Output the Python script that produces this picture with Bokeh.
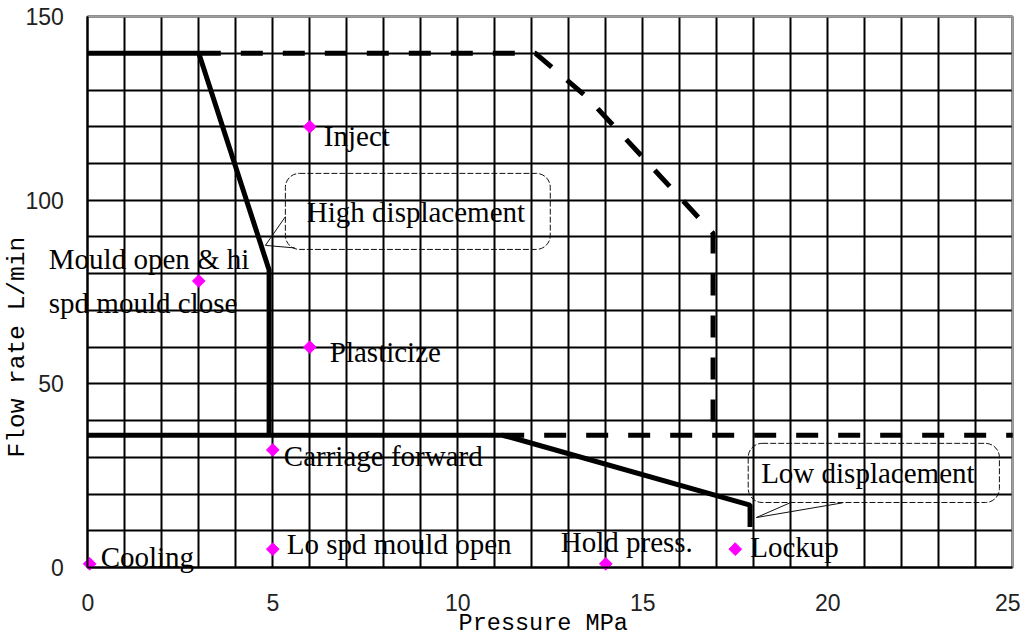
from math import pi
from bokeh.plotting import figure
from bokeh.models import (Label, BoxAnnotation, SingleIntervalTicker, FixedTicker, Range1d,
                          LinearAxis, Grid)
from bokeh.embed import file_html
from bokeh.resources import INLINE

# ---- data ----
hi_disp_p = [0, 3, 4.9, 4.9]
hi_disp_q = [140, 140, 81, 36]
lo_disp_p = [0, 11.2, 11.45, 17.9, 17.9]
lo_disp_q = [36, 36, 35.4, 17, 11]
hi_max_p = [3, 12.1, 13.5, 16.9, 16.9]
hi_max_q = [140, 140, 128, 91, 36]
lo_max_p = [11.2, 25]
lo_max_q = [36, 36]

stage_names = ["Inject", "Mould open & hi\nspd mould close", "Plasticize",
               "Carriage forward", "Lo spd mould open", "Cooling",
               "Hold press.", "Lockup"]
stage_p = [6, 3, 6, 5, 5, 0.05, 14, 17.5]
stage_q = [120, 78, 60, 32, 5, 1, 1, 5]

x_ticks = [0, 5, 10, 15, 20, 25]
y_ticks = [0, 50, 100, 150]
X_MIN, X_MAX = 0, 25
Y_MIN, Y_MAX = 0, 150

x_title = "Pressure  MPa"
y_title = "Flow rate  L/min"
callout_hi = "High displacement"
callout_lo = "Low displacement"

# ---- styles / positions ----
label_offsets = [(14, -9), (-150, 0), (20, -5), (11, -6), (14, 5), (11, 7), (-45, 22), (15, 2)]
serif = "Liberation Serif"
fs = "29px"

p = figure(width=1020, height=639, x_range=Range1d(-2.36, 25.21), y_range=Range1d(-19.60, 154.37),
           x_axis_location=None, y_axis_location=None,
           output_backend="svg", toolbar_location=None, min_border=0)
p.background_fill_color = "white"
p.border_fill_color = "white"
p.outline_line_color = None

for r in list(p.center):
    if isinstance(r, Grid):
        r.visible = False

xgrid = Grid(dimension=0, ticker=SingleIntervalTicker(interval=1),
             bounds=(X_MIN, X_MAX), cross_bounds=(Y_MIN, Y_MAX),
             grid_line_color="black", grid_line_width=2)
ygrid = Grid(dimension=1, ticker=SingleIntervalTicker(interval=10),
             bounds=(Y_MIN, Y_MAX), cross_bounds=(X_MIN, X_MAX),
             grid_line_color="black", grid_line_width=2)
p.add_layout(xgrid, "center")
p.add_layout(ygrid, "center")

xaxis = LinearAxis(fixed_location=Y_MIN, ticker=FixedTicker(ticks=x_ticks), bounds=(X_MIN, X_MAX))
yaxis = LinearAxis(fixed_location=X_MIN, ticker=FixedTicker(ticks=y_ticks), bounds=(Y_MIN, Y_MAX))
for ax in (xaxis, yaxis):
    ax.axis_line_color = "black"
    ax.axis_line_width = 2
    ax.major_tick_line_color = None
    ax.minor_tick_line_color = None
    ax.major_tick_in = 0
    ax.major_tick_out = 0
    ax.major_label_text_font = "Liberation Sans"
    ax.major_label_text_font_size = "23px"
    ax.major_label_text_color = "#222222"
xaxis.major_label_standoff = 26
yaxis.major_label_standoff = 24
p.add_layout(xaxis, "below")
p.add_layout(yaxis, "left")

# top / right frame edges (grey)
p.segment(x0=[X_MIN, X_MAX], y0=[Y_MAX, Y_MIN], x1=[X_MAX, X_MAX], y1=[Y_MAX, Y_MAX],
          line_color="#a0a0a0", line_width=2)

# series
p.line(hi_max_p, hi_max_q, line_color="black", line_width=5, line_dash="22 20")
p.line(lo_max_p, lo_max_q, line_color="black", line_width=5, line_dash="22 20")
p.line(hi_disp_p, hi_disp_q, line_color="black", line_width=5)
p.line(lo_disp_p, lo_disp_q, line_color="black", line_width=5)

p.scatter(stage_p, stage_q, marker="square", angle=pi / 4, size=9,
          fill_color="#FF00FF", line_color="#FF00FF")

for name, px, py, (dx, dy) in zip(stage_names, stage_p, stage_q, label_offsets):
    p.add_layout(Label(x=px, y=py, x_offset=dx, y_offset=dy, text=name,
                       text_font=serif, text_font_size=fs, text_color="black",
                       text_align="left", text_baseline="middle", text_line_height=1.4))

# callouts
p.add_layout(BoxAnnotation(left=5.34, right=12.5, top=107.3, bottom=86.6, border_radius=14,
                           fill_alpha=0, line_color="#111111", line_alpha=1, line_width=1,
                           line_dash="6 2"))
p.line([5.34, 4.8, 5.6], [95.5, 87.7, 87.0], line_color="#111111", line_width=1)
p.add_layout(Label(x=5.92, y=96.8, text=callout_hi, text_font=serif, text_font_size=fs,
                   text_color="black", text_align="left", text_baseline="middle"))

p.add_layout(BoxAnnotation(left=17.85, right=24.64, top=33.8, bottom=17.7, border_radius=14,
                           fill_alpha=0, line_color="#111111", line_alpha=1, line_width=1,
                           line_dash="6 2"))
p.line([19.0, 18.07, 20.4], [17.7, 13.6, 17.6], line_color="#111111", line_width=1)
p.add_layout(Label(x=18.2, y=25.6, text=callout_lo, text_font=serif, text_font_size=fs,
                   text_color="black", text_align="left", text_baseline="middle"))

# axis titles
p.add_layout(Label(x=12.5, y=-15.2, text=x_title, text_font="Liberation Mono",
                   text_font_size="23.5px", text_color="black",
                   text_align="center", text_baseline="middle"))
p.add_layout(Label(x=-1.9, y=62, text=y_title, angle=pi / 2, text_font="Liberation Mono",
                   text_font_size="24.5px", text_color="black",
                   text_align="center", text_baseline="middle"))

open("out.html", "w").write(file_html(p, INLINE))
